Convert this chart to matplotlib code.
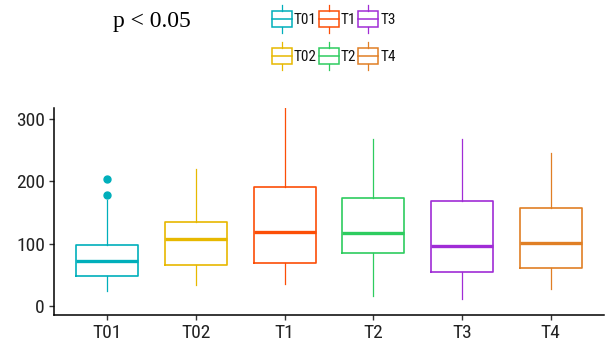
import matplotlib
matplotlib.use("Agg")
import matplotlib.pyplot as plt
from matplotlib.legend_handler import HandlerBase
from matplotlib.patches import Rectangle, Patch
from matplotlib.lines import Line2D

groups = ["T01", "T02", "T1", "T2", "T3", "T4"]
colors = ["#00AFBB", "#E7B800", "#FC4E07", "#2ECC5F", "#A02CD6", "#E07F25"]
whislo = [24, 34, 36, 16, 11, 28]
q1 = [48.6, 66, 69, 85.5, 54, 61.4]
med = [72, 107, 119, 116.5, 96.7, 101.5]
q3 = [97.8, 134, 191, 174, 169, 157]
whishi = [170, 219, 317, 267.6, 267.6, 246]
outliers = [[178, 203.5], [], [], [], [], []]
yticks = [0, 100, 200, 300]
p_label = "p < 0.05"

FONT = ["Roboto Condensed", "DejaVu Sans"]

fig = plt.figure(figsize=(6.05, 3.51), dpi=100)
ax = fig.add_axes([0.0893, 0.1026, 0.9087, 0.5894])

stats = []
for i, g in enumerate(groups):
    stats.append(dict(label=g, whislo=whislo[i], q1=q1[i], med=med[i],
                      q3=q3[i], whishi=whishi[i], fliers=outliers[i]))

positions = list(range(1, len(groups) + 1))
for i, s in enumerate(stats):
    c = colors[i]
    ax.bxp([s], positions=[positions[i]], widths=0.7, showcaps=False,
           patch_artist=False,
           boxprops=dict(color=c, linewidth=1.2),
           whiskerprops=dict(color=c, linewidth=0.9),
           medianprops=dict(color=c, linewidth=2.4, solid_capstyle="butt"),
           flierprops=dict(marker="o", markerfacecolor=c, markeredgecolor=c,
                           markersize=5, linestyle="none"))

ax.set_xlim(0.4, 6.6)
ax.set_ylim(-14.5, 317.5)
ax.set_xticks(positions)
ax.set_xticklabels(groups)
ax.set_yticks(yticks)
for sp in ["top", "right"]:
    ax.spines[sp].set_visible(False)
for sp in ["left", "bottom"]:
    ax.spines[sp].set_linewidth(1.1)
    ax.spines[sp].set_color("black")
ax.tick_params(axis="both", length=3.6, width=1.0, color="#333333", pad=3,
               labelsize=14, labelcolor="#222222")
for lab in ax.get_xticklabels() + ax.get_yticklabels():
    lab.set_family(FONT)


class BoxHandler(HandlerBase):
    def create_artists(self, legend, orig_handle, xdescent, ydescent,
                       width, height, fontsize, trans):
        c = orig_handle.get_edgecolor()
        x0 = -xdescent
        y0 = -ydescent
        bl = y0 + 0.22 * height
        bh = 0.58 * height
        xm = x0 + width / 2
        arts = [
            Rectangle((x0, bl), width, bh, facecolor="none", edgecolor=c,
                      linewidth=1.1, transform=trans),
            Line2D([x0, x0 + width], [bl + bh / 2] * 2, color=c,
                   linewidth=1.1, transform=trans),
            Line2D([xm, xm], [y0, bl], color=c, linewidth=0.9, transform=trans),
            Line2D([xm, xm], [bl + bh, y0 + height], color=c, linewidth=0.9,
                   transform=trans),
        ]
        return arts


handles = [Patch(edgecolor=c, facecolor="none", label=g)
           for g, c in zip(groups, colors)]
leg = fig.legend(handles=handles, labels=groups, ncol=3,
                 loc="upper left", bbox_to_anchor=(0.449, 0.986),
                 frameon=False, borderpad=0, borderaxespad=0,
                 handlelength=1.31, handleheight=2.45, handletextpad=0.12,
                 columnspacing=0.15, labelspacing=0.59,
                 handler_map={Patch: BoxHandler()},
                 prop=dict(family=FONT, size=11))
for t in leg.get_texts():
    t.set_color("#111111")

fig.text(0.187, 1 - 27.5 / 351, p_label, family=["Liberation Serif", "DejaVu Serif"],
         fontsize=17, va="baseline", ha="left")

fig.savefig("out.png", dpi=100)
